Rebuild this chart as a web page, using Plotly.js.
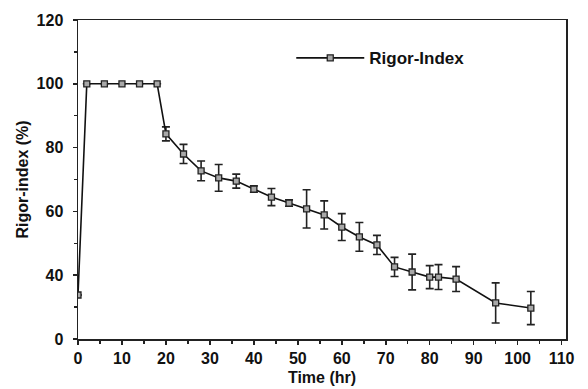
<!DOCTYPE html>
<html>
<head>
<meta charset="utf-8">
<script src="https://cdn.plot.ly/plotly-3.0.1.min.js"></script>
<style>html,body{margin:0;padding:0;background:#fff;}#chart{width:588px;height:389px;}</style>
</head>
<body>
<div id="chart"></div>
<script>
// Data
const timeHr = [0, 2, 6, 10, 14, 18, 20, 24, 28, 32, 36, 40, 44, 48, 52, 56, 60, 64, 68, 72, 76, 80, 82, 86, 95, 103];
const rigorIndex = [33.8, 100, 100, 100, 100, 100, 84.3, 78.0, 72.7, 70.5, 69.5, 67.0, 64.5, 62.6, 60.8, 58.9, 55.1, 52.0, 49.5, 42.6, 41.0, 39.4, 39.4, 38.8, 31.3, 29.7];
const rigorErr = [0, 0, 0, 0, 0, 0, 2.2, 3.0, 3.1, 4.2, 2.2, 1.0, 2.7, 1.0, 6.0, 4.4, 4.2, 4.5, 3.0, 3.0, 5.6, 3.6, 3.9, 3.9, 6.3, 5.2];
const yTickVals = [20, 40, 60, 80, 100, 120];
const yTickText = ['0', '40', '60', '80', '100', '120'];
const xTickVals = [0, 10, 20, 30, 40, 50, 60, 70, 80, 90, 100, 110];

const fontFam = 'Liberation Sans, Arial, sans-serif';
const trace = {
  x: timeHr,
  y: rigorIndex,
  type: 'scatter',
  mode: 'lines+markers',
  name: 'Rigor-Index',
  line: {color: '#111', width: 1.6},
  marker: {symbol: 'square', size: 6, color: '#a8a8a8', line: {color: '#222', width: 1.3}},
  error_y: {type: 'data', array: rigorErr, visible: true, color: '#222', thickness: 1.6, width: 4}
};

const layout = {
  width: 588, height: 389,
  margin: {l: 78, r: 22, t: 20, b: 50},
  paper_bgcolor: '#fff', plot_bgcolor: '#fff',
  showlegend: true,
  legend: {x: 0.437, y: 0.88, xanchor: 'left', yanchor: 'middle', bgcolor: 'rgba(0,0,0,0)',
           itemwidth: 68, font: {family: fontFam, size: 17, color: '#111', weight: 'bold'}},
  xaxis: {
    range: [0, 111], tickvals: xTickVals, ticks: 'outside', ticklen: 4, tickwidth: 1.5, tickcolor: '#222',
    minor: {dtick: 5, tick0: 0, ticks: 'outside', ticklen: 3, tickcolor: '#222', showgrid: false},
    showline: true, linecolor: '#222', linewidth: 1.5, mirror: true, showgrid: false, zeroline: false,
    tickfont: {family: fontFam, size: 16, color: '#111', weight: 'bold'},
    title: {text: 'Time (hr)', font: {family: fontFam, size: 16, color: '#111', weight: 'bold'}, standoff: 6}
  },
  yaxis: {
    range: [20, 120], tickvals: yTickVals, ticktext: yTickText, ticks: 'outside', ticklen: 4, tickwidth: 1.5, tickcolor: '#222',
    minor: {dtick: 10, tick0: 0, ticks: 'outside', ticklen: 3, tickcolor: '#222', showgrid: false},
    showline: true, linecolor: '#222', linewidth: 1.5, mirror: true, showgrid: false, zeroline: false,
    ticklabelstandoff: 6,
    tickfont: {family: fontFam, size: 16, color: '#111', weight: 'bold'},
    title: {text: 'Rigor-index (%)', font: {family: fontFam, size: 16, color: '#111', weight: 'bold'}, standoff: 4}
  }
};

Plotly.newPlot('chart', [trace], layout, {displayModeBar: false, staticPlot: true});
</script>
</body>
</html>
